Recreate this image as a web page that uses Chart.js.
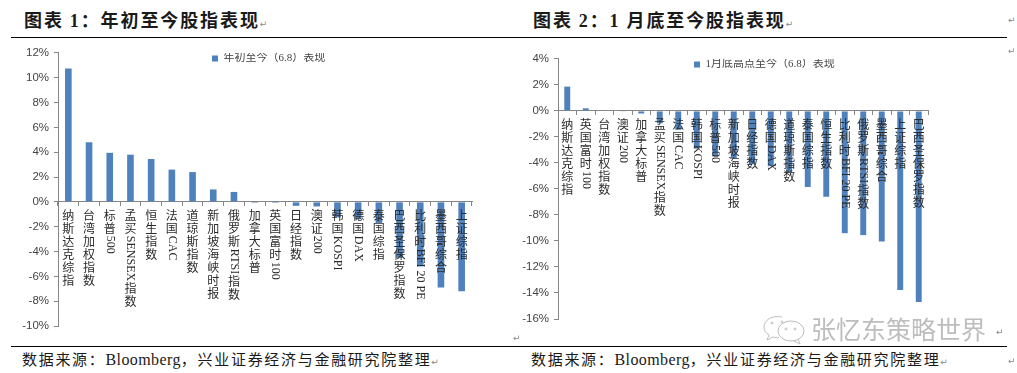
<!DOCTYPE html>
<html>
<head>
<meta charset="utf-8">
<script src="https://cdn.jsdelivr.net/npm/chart.js@4"></script>
<style>
  html, body { margin: 0; padding: 0; background: #fff; }
  body { width: 1017px; height: 373px; position: relative; overflow: hidden; font-family: "Noto Sans CJK SC", sans-serif; }
  .box { position: absolute; }
  .rule { position: absolute; left: 11px; width: 996px; height: 1px; background: #000; }
  .title { position: absolute; top: 6px; font-size: 18px; font-weight: 700; letter-spacing: 1.9px; line-height: 26px; color: #1a1a1a; white-space: nowrap; }
  .title b { font-family: "Liberation Serif", serif; }
  .source { position: absolute; top: 348px; font-size: 15px; letter-spacing: 1.7px; line-height: 22px; color: #1a1a1a; white-space: nowrap; }
  .source i { font-style: normal; font-family: "Liberation Serif", serif; font-size: 16px; letter-spacing: 0.4px; }
  .mark { position: absolute; font-family: "DejaVu Sans", sans-serif; font-size: 9px; letter-spacing: 0; font-weight: 400; color: #888; line-height: 12px; }
  .wm { position: absolute; left: 811px; top: 310px; font-size: 25px; line-height: 36px; color: #bdbdbd; white-space: nowrap; }
</style>
</head>
<body>
<div class="title" style="left:24px">图表 <b>1</b>：年初至今股指表现<span class="mark" style="position:static">↵</span></div>
<div class="title" style="left:533px">图表 <b>2</b>：<b>1</b> 月底至今股指表现<span class="mark" style="position:static">↵</span></div>
<div class="rule" style="top:37px"></div>
<div class="rule" style="top:346px"></div>
<div class="source" style="left:22px">数据来源：<i>Bloomberg</i>，兴业证券经济与金融研究院整理<span class="mark" style="position:static">↵</span></div>
<div class="source" style="left:531px">数据来源：<i>Bloomberg</i>，兴业证券经济与金融研究院整理<span class="mark" style="position:static">↵</span></div>

<div class="box" style="left:0;top:41px;width:510px;height:300px"><canvas id="chart1"></canvas></div>
<div class="box" style="left:500px;top:47px;width:510px;height:290px"><canvas id="chart2"></canvas></div>

<svg class="box" style="left:762px;top:314px" width="46" height="32" fill="none" stroke="#bdbdbd" stroke-width="1">
  <path d="M20 3 C10 1 2 6 2 13 C2 17 4 19 7 21 L5 26 L11 23 C13 23.500 15 24 17 23.500"/>
  <ellipse cx="29" cy="17" rx="13" ry="10"/>
  <path d="M36 25 L38 30 L32 27"/>
  <circle cx="10" cy="9" r="1"/><circle cx="20" cy="8" r="1"/>
  <circle cx="24" cy="15" r="1"/><circle cx="33" cy="15" r="1"/>
</svg>
<div class="wm">张忆东策略世界</div>
<div class="mark" style="left:1008px;top:14px">↵</div>
<div class="mark" style="left:1008px;top:45px">↵</div>
<div class="mark" style="left:513px;top:332px">↵</div>
<div class="mark" style="left:996px;top:326px">↵</div>
<div class="mark" style="left:1008px;top:355px">↵</div>

<script>
var categories1 = ["纳斯达克综指", "台湾加权指数", "标普500", "孟买SENSEX指数", "恒生指数", "法国CAC", "道琼斯指数", "新加坡海峡时报", "俄罗斯RTSI指数", "加拿大标普", "英国富时100", "日经指数", "澳证200", "韩国KOSPI", "德国DAX", "泰国综指", "巴西圣保罗指数", "比利时BFI 20 PE", "墨西哥综合", "上证综指"];
var values1 = [10.75, 4.8, 3.95, 3.8, 3.45, 2.6, 2.4, 1.0, 0.8, -0.08, -0.08, -0.32, -0.37, -1.25, -1.4, -1.7, -4.5, -5.2, -6.9, -7.2];
var series1 = "年初至今（6.8）表现";

var categories2 = ["纳斯达克综指", "英国富时100", "台湾加权指数", "澳证200", "加拿大标普", "孟买SENSEX指数", "法国CAC", "韩国KOSPI", "标普500", "新加坡海峡时报", "日经指数", "德国DAX", "道琼斯指数", "泰国综指", "恒生指数", "比利时BFI 20 PE", "俄罗斯RTSI指数", "墨西哥综合", "上证综指", "巴西圣保罗指数"];
var values2 = [1.87, 0.2, 0.05, -0.05, -0.2, -0.95, -1.45, -2.9, -3.5, -3.65, -4.1, -4.25, -4.75, -5.85, -6.6, -9.4, -9.55, -10.05, -13.77, -14.7];
var series2 = "1月底高点至今（6.8）表现";

var CJK_FONT = '12px "Noto Sans CJK SC"';
var LATIN_FONT = '12px "Liberation Serif"';

// category names run down from the zero line: CJK upright, latin turned 90 degrees
var verticalLabels = {
  id: "verticalLabels",
  afterDatasetsDraw: function (chart) {
    var ctx = chart.ctx;
    var x = chart.scales.x;
    var y0 = chart.scales.y.getPixelForValue(0) + 9;
    ctx.save();
    ctx.fillStyle = "#2b2b2b";
    ctx.textBaseline = "middle";
    chart.data.labels.forEach(function (label, i) {
      var px = x.getPixelForValue(i);
      var py = y0;
      (label.match(/[\x20-\x7e]+|[^\x20-\x7e]/g) || []).forEach(function (run) {
        if (/[\x20-\x7e]/.test(run)) {
          ctx.font = LATIN_FONT;
          var w = ctx.measureText(run).width;
          ctx.save();
          ctx.translate(px, py - 1);
          ctx.rotate(Math.PI / 2);
          ctx.textAlign = "left";
          ctx.fillText(run, 0, 0);
          ctx.restore();
          py += w + 1;
        } else {
          ctx.font = CJK_FONT;
          ctx.textAlign = "center";
          ctx.fillText(run, px, py + 5);
          py += 13;
        }
      });
    });
    ctx.restore();
  }
};

// legend sits inside the plot, at a spot chart.js has no preset for
var legendSpot = {
  id: "legendSpot",
  afterLayout: function (chart) {
    var o = chart.options.plugins.legendSpot;
    chart.legend.left = o.x;
    chart.legend.top = o.y;
  }
};

function makeChart(id, labels, values, name, min, max, pad, legendAt) {
  return new Chart(document.getElementById(id), {
    type: "bar",
    data: {
      labels: labels,
      datasets: [{
        label: name,
        data: values,
        backgroundColor: "#4F81BD",
        categoryPercentage: 1,
        barPercentage: 0.32
      }]
    },
    plugins: [verticalLabels, legendSpot],
    options: {
      responsive: true,
      maintainAspectRatio: false,
      animation: false,
      layout: { padding: pad },
      plugins: {
        tooltip: { enabled: false },
        legendSpot: legendAt,
        legend: {
          position: "chartArea",
          align: "start",
          labels: {
            boxWidth: 6,
            boxHeight: 6,
            padding: 0,
            color: "#444",
            font: { family: '"Liberation Serif", "Noto Sans CJK SC"', size: 11 }
          }
        }
      },
      scales: {
        x: {
          position: { y: 0 },
          grid: { drawOnChartArea: false, drawTicks: true, tickLength: 4, color: "#868686", offset: true },
          border: { color: "#868686" },
          ticks: { display: false, autoSkip: false }
        },
        y: {
          min: min,
          max: max,
          afterFit: function (scale) { scale.width = 58; },
          grid: { drawOnChartArea: false, drawTicks: true, tickLength: 4, color: "#868686" },
          border: { color: "#868686" },
          ticks: {
            stepSize: 2,
            padding: 5,
            color: "#444",
            font: { family: '"Liberation Sans"', size: 11.5 },
            callback: function (v) { return v + "%"; }
          }
        }
      }
    }
  });
}

makeChart("chart1", categories1, values1, series1, -10, 12, { top: 9.5, bottom: 15, right: 38 }, { x: 212, y: 12 });
makeChart("chart2", categories2, values2, series2, -16, 4, { top: 9, bottom: 18, right: 82 }, { x: 194, y: 12 });
</script>
</body>
</html>
